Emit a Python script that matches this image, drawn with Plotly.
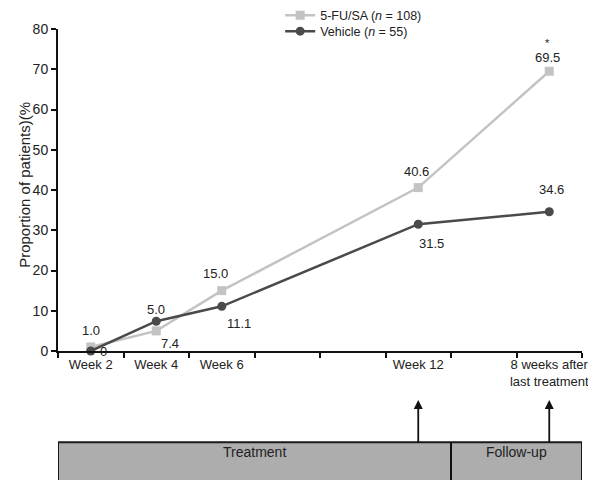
import plotly.graph_objects as go

categories = ["Week 2", "Week 4", "Week 6", " ", "  ", "Week 12", "   ",
              "8 weeks after<br>last treatment"]
timepoints = ["Week 2", "Week 4", "Week 6", "Week 12", "8 weeks after<br>last treatment"]
fu_sa = [1.0, 5.0, 15.0, 40.6, 69.5]
vehicle = [0.0, 7.4, 11.1, 31.5, 34.6]
y_ticks = [0, 10, 20, 30, 40, 50, 60, 70, 80]

FU_COLOR = "#c3c3c3"
VEH_COLOR = "#4a4a4a"
FONT = "Liberation Sans, Arial, sans-serif"

fig = go.Figure()
# invisible trace to register gap categories
fig.add_trace(go.Scatter(x=categories, y=[None] * len(categories), mode="markers",
                         showlegend=False, hoverinfo="skip"))
fig.add_trace(go.Scatter(
    x=timepoints, y=fu_sa, mode="lines+markers", name="5-FU/SA (<i>n</i> = 108)",
    line=dict(color=FU_COLOR, width=2.5), legend="legend",
    marker=dict(symbol="square", size=9, color=FU_COLOR), cliponaxis=False))
fig.add_trace(go.Scatter(
    x=timepoints, y=vehicle, mode="lines+markers", name="Vehicle (<i>n</i> = 55)",
    line=dict(color=VEH_COLOR, width=2.5), legend="legend2",
    marker=dict(symbol="circle", size=9, color=VEH_COLOR), cliponaxis=False))


def fmt(v):
    return "0" if v == 0 else f"{v:.1f}"


fu_off = [(0, 16), (0, 21), (-6, 17), (-2, 16), (-2, 14)]
veh_off = [(13, 0), (14, -22), (17, -17), (13, -19), (2, 22)]
annotations = []
for cat, v, (dx, dy) in zip(timepoints, fu_sa, fu_off):
    annotations.append(dict(x=cat, y=v, text=fmt(v), showarrow=False, xshift=dx, yshift=dy,
                            font=dict(size=13, color="#222")))
for cat, v, (dx, dy) in zip(timepoints, vehicle, veh_off):
    annotations.append(dict(x=cat, y=v, text=fmt(v), showarrow=False, xshift=dx, yshift=dy,
                            font=dict(size=13, color="#222")))
annotations.append(dict(x=timepoints[-1], y=fu_sa[-1], text="*", showarrow=False,
                        xshift=-2, yshift=28, font=dict(size=11, color="#222")))

# y-axis title
annotations.append(dict(x=-0.063, y=0.516, xref="paper", yref="paper",
                        xanchor="center", yanchor="middle",
                        text="Proportion of patients)(%", textangle=-90, showarrow=False,
                        font=dict(size=15, color="#222")))

# timeline arrows
for cat in ["Week 12", "8 weeks after<br>last treatment"]:
    annotations.append(dict(x=cat, y=-0.152, xref="x", yref="paper", ax=0, ay=44,
                            text="", showarrow=True, arrowhead=2, arrowsize=1,
                            arrowwidth=1.8, arrowcolor="#111"))
annotations.append(dict(x=2.5, y=-0.345, xref="x", yref="paper", text="Treatment",
                        showarrow=False, font=dict(size=14, color="#222")))
annotations.append(dict(x=6.5, y=-0.345, xref="x", yref="paper", text="Follow-up",
                        showarrow=False, font=dict(size=14, color="#222")))

shapes = [
    dict(type="rect", xref="x", yref="paper", x0=-0.5, x1=7.5, y0=-0.41, y1=-0.283,
         fillcolor="#adadad", line=dict(color="#1a1a1a", width=2)),
    dict(type="line", xref="x", yref="paper", x0=5.5, x1=5.5, y0=-0.41, y1=-0.283,
         line=dict(color="#111", width=2)),
]

legend_style = dict(xref="paper", yref="paper", xanchor="left", yanchor="top",
                    bgcolor="rgba(0,0,0,0)", font=dict(size=12.5, color="#222"),
                    itemwidth=30)

# page has an 8px body margin: figure is 8px smaller and margins shifted accordingly
fig.update_layout(
    width=588, height=472,
    margin=dict(l=50, r=14, t=21, b=129, autoexpand=False),
    paper_bgcolor="white", plot_bgcolor="white",
    font=dict(family=FONT, size=13, color="#222"),
    showlegend=True,
    legend=dict(x=0.424, y=1.0885, **legend_style),
    legend2=dict(x=0.424, y=1.0388, **legend_style),
    annotations=annotations,
    shapes=shapes,
    xaxis=dict(
        type="category", categoryorder="array", categoryarray=categories,
        range=[-0.5, 7.5], tickson="boundaries", automargin=False,
        ticklabeloverflow="allow",
        showline=True, linecolor="#111", linewidth=2,
        ticks="outside", ticklen=5, tickwidth=2, tickcolor="#111",
        showgrid=False, zeroline=False,
        tickfont=dict(size=13, color="#222"), tickangle=0,
    ),
    yaxis=dict(
        range=[0, 80], tickvals=y_ticks, automargin=False,
        showline=True, linecolor="#111", linewidth=2,
        ticks="outside", ticklen=5, tickwidth=2, tickcolor="#111",
        showgrid=False, zeroline=False,
        tickfont=dict(size=14, color="#222"),
    ),
)

fig.write_html("out.html", config={"displayModeBar": False})
